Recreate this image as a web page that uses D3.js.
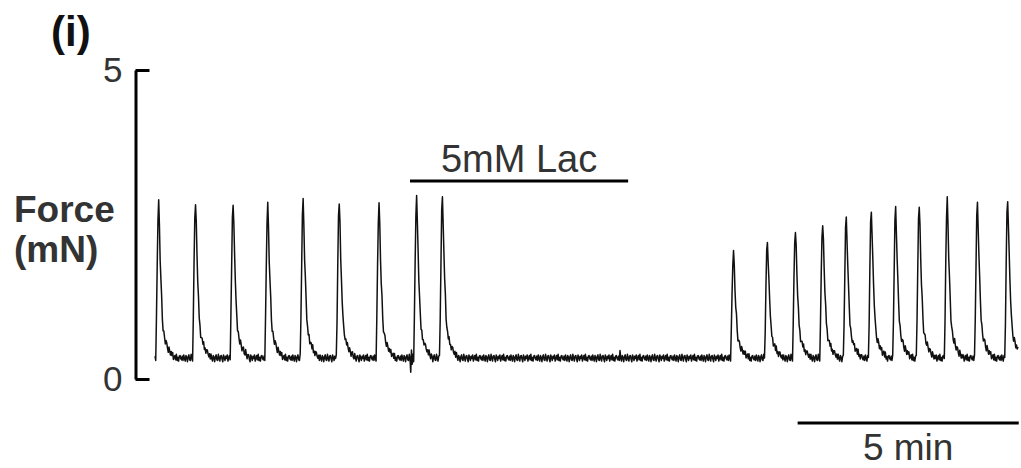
<!DOCTYPE html>
<html>
<head>
<meta charset="utf-8">
<script src="https://cdn.jsdelivr.net/npm/d3@7"></script>
<style>
  body { margin: 0; background: #fff; }
  text { font-family: "Liberation Sans", Arial, sans-serif; }
</style>
</head>
<body>
<div id="canvas"></div>
<script>
// twitch onsets (s) and peak force (mN)
const peakTimes = [1, 51, 102, 149, 197, 246, 300, 351, 386,
  781, 827, 865, 902, 934, 968, 1001, 1033, 1071, 1112, 1153];
const peakForces = [2.86, 2.88, 2.86, 2.82, 2.88, 2.86, 2.83, 2.94, 2.94,
  2.06, 2.23, 2.43, 2.54, 2.62, 2.73, 2.78, 2.82, 2.90, 2.85, 2.90];
// normalised shape of one twitch, one value per second after onset
const twitchShape = [0, 0.25, 0.6, 0.9, 1.0, 0.85, 0.65, 0.5, 0.38, 0.26, 0.19, 0.15, 0.13,
  0.11, 0.1, 0.08, 0.07, 0.06, 0.05, 0.04, 0.035, 0.03, 0.02, 0.015, 0.01, 0.005, 0];
const baseline = 0.34;
// baseline jitter snippet (mN)
const noise = [0.03, -0.04, 0.05, -0.01, -0.05, 0.04, 0.01, -0.06, 0.02, 0.05, -0.03, -0.04, 0.06,
  0.0, -0.05, 0.03, 0.04, -0.02, -0.06, 0.05, 0.01, -0.04, 0.03, -0.01, 0.05, -0.05, 0.0, 0.04,
  -0.03, 0.06, -0.04, 0.01, -0.05, 0.03, 0.04, -0.01, -0.03];
// short artefacts on the trace
const artefacts = [{ t: 347, v: -0.18 }, { t: 348, v: 0.1 }, { t: 349, v: -0.14 }, { t: 350, v: 0.08 },
  { t: 631, v: 0.07 }];
const traceEnd = 1171;
const lacStart = 346, lacEnd = 642;
const scaleBarStart = 872, scaleBarLen = 300;
const yTicks = [0, 5];

const width = 1021, height = 468;

let svg = d3.select("#canvas")
  .append("svg")
  .attr("width", width)
  .attr("height", height);

let x = d3.scaleLinear().domain([0, traceEnd]).range([155, 1018]);
let y = d3.scaleLinear().domain([0, 5]).range([379, 70]);

// build the sampled trace
let trace = [];
for (let t = 0; t <= traceEnd; t++) {
  let v = baseline + noise[t % noise.length];
  peakTimes.forEach(function (p, i) {
    let k = t - p;
    if (k >= 0 && k < twitchShape.length) v += (peakForces[i] - baseline) * twitchShape[k];
  });
  artefacts.forEach(function (a) { if (a.t === t) v += a.v; });
  trace.push({ t: t, v: v });
}

svg.append("path")
  .datum(trace)
  .attr("fill", "none")
  .attr("stroke", "#111")
  .attr("stroke-width", 1.5)
  .attr("stroke-linejoin", "round")
  .attr("d", d3.line().x(d => x(d.t)).y(d => y(d.v)));

// bracket-style y axis
let yAxis = svg.append("g")
  .attr("transform", "translate(135.5,0)")
  .call(d3.axisLeft(y).tickValues(yTicks).tickFormat(d3.format("d"))
    .tickSizeInner(-14).tickSizeOuter(0).tickPadding(13));
yAxis.select(".domain").attr("stroke", "#000").attr("stroke-width", 3);
yAxis.selectAll(".tick line").attr("stroke", "#000").attr("stroke-width", 3);
yAxis.selectAll(".tick text")
  .style("font-family", "'Liberation Sans', Arial, sans-serif")
  .style("font-size", "35px")
  .attr("fill", "#333");

// axis title
svg.append("text").attr("x", 14).attr("y", 222)
  .style("font-size", "37px").style("font-weight", "bold").attr("fill", "#333").text("Force");
svg.append("text").attr("x", 14).attr("y", 262)
  .style("font-size", "37px").style("font-weight", "bold").attr("fill", "#333").text("(mN)");

// panel label
svg.append("text").attr("x", 51).attr("y", 46)
  .style("font-size", "42px").style("font-weight", "bold").attr("fill", "#111").text("(i)");

// lactate application bar
svg.append("line")
  .attr("x1", x(lacStart)).attr("x2", x(lacEnd)).attr("y1", 181).attr("y2", 181)
  .attr("stroke", "#000").attr("stroke-width", 3);
svg.append("text")
  .attr("x", (x(lacStart) + x(lacEnd)) / 2).attr("y", 172)
  .attr("text-anchor", "middle")
  .style("font-size", "38px").attr("fill", "#333").text("5mM Lac");

// time scale bar
svg.append("line")
  .attr("x1", x(scaleBarStart)).attr("x2", x(scaleBarStart + scaleBarLen)).attr("y1", 423).attr("y2", 423)
  .attr("stroke", "#000").attr("stroke-width", 3);
svg.append("text")
  .attr("x", (x(scaleBarStart) + x(scaleBarStart + scaleBarLen)) / 2).attr("y", 460)
  .attr("text-anchor", "middle")
  .style("font-size", "37px").attr("fill", "#333").text("5 min");
</script>
</body>
</html>
